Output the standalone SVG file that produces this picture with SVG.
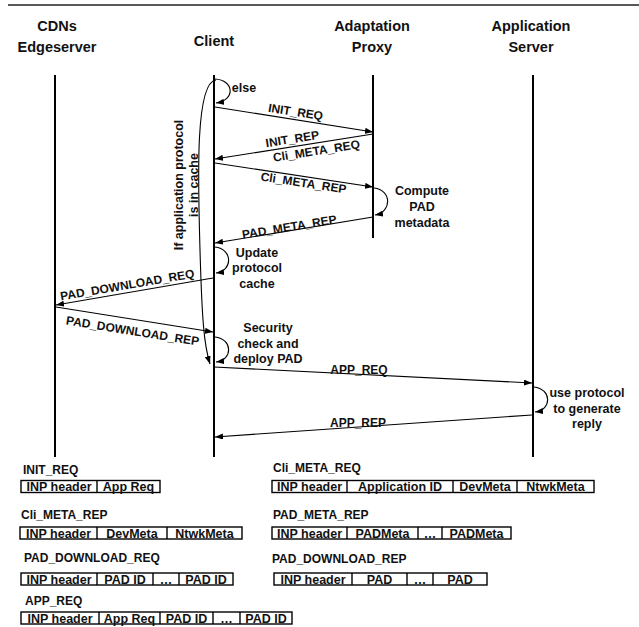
<svg xmlns="http://www.w3.org/2000/svg" width="639" height="627" viewBox="0 0 639 627">
<defs>
<marker id="ah" markerWidth="8" markerHeight="6" refX="8" refY="3" orient="auto" markerUnits="userSpaceOnUse">
<path d="M0,0 L8,3 L0,6 Z" fill="#000"/>
</marker>
<style>
text{font-family:"Liberation Sans",Arial,sans-serif;font-weight:bold;fill:#111}
.hd{font-size:14.5px;text-anchor:middle}
.lb{font-size:12px;text-anchor:middle}
.nt{font-size:12.5px;text-anchor:middle}
.ti{font-size:12px}
.bx{font-size:12.5px;text-anchor:middle}
.life{stroke:#000;stroke-width:2;fill:none}
.msg{stroke:#000;stroke-width:1.1;fill:none;marker-end:url(#ah)}
.cell{stroke:#000;stroke-width:1.4;fill:#fff}
.div{stroke:#000;stroke-width:1.4}
</style>
</defs>
<rect width="639" height="627" fill="#fff"/>
<line x1="8" y1="5" x2="639" y2="5" stroke="#222" stroke-width="1.5"/>

<g id="cdn">
<text class="hd" x="57" y="31">CDNs</text>
<text class="hd" x="57" y="52">Edgeserver</text>
<line class="life" x1="55" y1="75" x2="55" y2="457"/>
</g>
<g id="client">
<text class="hd" x="214" y="46">Client</text>
<line class="life" x1="214" y1="75" x2="214" y2="457"/>
</g>
<g id="proxy">
<text class="hd" x="372" y="31">Adaptation</text>
<text class="hd" x="372" y="52">Proxy</text>
<line class="life" x1="373" y1="75" x2="373" y2="238"/>
</g>
<g id="appserver">
<text class="hd" x="531" y="31">Application</text>
<text class="hd" x="531" y="52">Server</text>
<line class="life" x1="533" y1="75" x2="533" y2="457"/>
</g>

<g id="connectors">
<path class="msg" d="M216,80 C195,82 198,180 200,250 C202,320 204,345 210,364"/>
<text class="nt" transform="translate(183,185) rotate(-90)">If application protocol</text>
<text class="nt" transform="translate(198,185) rotate(-90)">is in cache</text>

<path class="msg" d="M215,79 C234,80 236,100 216,103"/>
<text class="nt" x="244" y="92">else</text>

<line class="msg" x1="215" y1="107" x2="373" y2="132"/>
<text class="lb" transform="translate(295,116) rotate(9)">INIT_REQ</text>

<line class="msg" x1="373" y1="134" x2="215" y2="159"/>
<text class="lb" transform="translate(293,143) rotate(-9)">INIT_REP</text>
<text class="lb" transform="translate(317,155) rotate(-9)">Cli_META_REQ</text>

<line class="msg" x1="215" y1="163" x2="373" y2="187"/>
<text class="lb" transform="translate(303,187) rotate(8.6)">Cli_META_REP</text>

<path class="msg" d="M374,188 C392,190 392,212 375,215"/>
<text class="nt" x="422" y="195">Compute</text>
<text class="nt" x="422" y="211">PAD</text>
<text class="nt" x="422" y="227">metadata</text>

<line class="msg" x1="373" y1="217" x2="215" y2="243"/>
<text class="lb" transform="translate(290,231) rotate(-9.3)">PAD_META_REP</text>

<path class="msg" d="M215,247 C233,249 233,271 216,273"/>
<text class="nt" x="257" y="257">Update</text>
<text class="nt" x="257" y="272">protocol</text>
<text class="nt" x="257" y="288">cache</text>

<line class="msg" x1="213" y1="278" x2="56" y2="305"/>
<text class="lb" transform="translate(128,289) rotate(-9.8)">PAD_DOWNLOAD_REQ</text>

<line class="msg" x1="56" y1="307" x2="213" y2="332"/>
<text class="lb" transform="translate(132,335) rotate(9.1)">PAD_DOWNLOAD_REP</text>

<path class="msg" d="M215,337 C233,339 233,360 216,362"/>
<text class="nt" x="268" y="332">Security</text>
<text class="nt" x="268" y="348">check and</text>
<text class="nt" x="268" y="363">deploy PAD</text>

<line class="msg" x1="214" y1="367" x2="532" y2="383"/>
<text class="lb" x="359" y="374">APP_REQ</text>

<path class="msg" d="M534,387 C552,389 552,410 535,412"/>
<text class="nt" x="587" y="397">use protocol</text>
<text class="nt" x="587" y="413">to generate</text>
<text class="nt" x="587" y="428">reply</text>

<line class="msg" x1="532" y1="415" x2="215" y2="437"/>
<text class="lb" x="358" y="427">APP_REP</text>
</g>

<g id="fmt-init-req">
<text class="ti" x="23" y="474">INIT_REQ</text>
<rect class="cell" x="21" y="480.5" width="139" height="12"/>
<line class="div" x1="97" y1="480.5" x2="97" y2="492.5"/>
<text class="bx" x="59" y="491">INP header</text>
<text class="bx" x="128.5" y="491">App Req</text>
</g>
<g id="fmt-cli-meta-req">
<text class="ti" x="273" y="472">Cli_META_REQ</text>
<rect class="cell" x="272" y="480.5" width="322" height="12"/>
<line class="div" x1="347" y1="480.5" x2="347" y2="492.5"/>
<line class="div" x1="453" y1="480.5" x2="453" y2="492.5"/>
<line class="div" x1="517" y1="480.5" x2="517" y2="492.5"/>
<text class="bx" x="309.5" y="491">INP header</text>
<text class="bx" x="400" y="491">Application ID</text>
<text class="bx" x="485" y="491">DevMeta</text>
<text class="bx" x="555.5" y="491">NtwkMeta</text>
</g>
<g id="fmt-cli-meta-rep">
<text class="ti" x="21" y="519">Cli_META_REP</text>
<rect class="cell" x="20" y="527" width="222" height="12"/>
<line class="div" x1="97" y1="527" x2="97" y2="539"/>
<line class="div" x1="167" y1="527" x2="167" y2="539"/>
<text class="bx" x="58.5" y="537.5">INP header</text>
<text class="bx" x="132" y="537.5">DevMeta</text>
<text class="bx" x="204.5" y="537.5">NtwkMeta</text>
</g>
<g id="fmt-pad-meta-rep">
<text class="ti" x="273" y="519">PAD_META_REP</text>
<rect class="cell" x="272" y="527" width="239" height="12"/>
<line class="div" x1="347" y1="527" x2="347" y2="539"/>
<line class="div" x1="418" y1="527" x2="418" y2="539"/>
<line class="div" x1="442" y1="527" x2="442" y2="539"/>
<text class="bx" x="309.5" y="537.5">INP header</text>
<text class="bx" x="382.5" y="537.5">PADMeta</text>
<text class="bx" x="430" y="537.5">…</text>
<text class="bx" x="476.5" y="537.5">PADMeta</text>
</g>
<g id="fmt-pad-download-req">
<text class="ti" x="24" y="562">PAD_DOWNLOAD_REQ</text>
<rect class="cell" x="21" y="573" width="212" height="12"/>
<line class="div" x1="97" y1="573" x2="97" y2="585"/>
<line class="div" x1="153" y1="573" x2="153" y2="585"/>
<line class="div" x1="179" y1="573" x2="179" y2="585"/>
<text class="bx" x="59" y="583.5">INP header</text>
<text class="bx" x="125" y="583.5">PAD ID</text>
<text class="bx" x="166" y="583.5">…</text>
<text class="bx" x="206" y="583.5">PAD ID</text>
</g>
<g id="fmt-pad-download-rep">
<text class="ti" x="272" y="563">PAD_DOWNLOAD_REP</text>
<rect class="cell" x="274" y="573" width="213" height="12"/>
<line class="div" x1="352" y1="573" x2="352" y2="585"/>
<line class="div" x1="407" y1="573" x2="407" y2="585"/>
<line class="div" x1="433" y1="573" x2="433" y2="585"/>
<text class="bx" x="313" y="583.5">INP header</text>
<text class="bx" x="379.5" y="583.5">PAD</text>
<text class="bx" x="420" y="583.5">…</text>
<text class="bx" x="460" y="583.5">PAD</text>
</g>
<g id="fmt-app-req">
<text class="ti" x="25" y="605">APP_REQ</text>
<rect class="cell" x="21" y="612" width="271" height="12"/>
<line class="div" x1="99" y1="612" x2="99" y2="624"/>
<line class="div" x1="160" y1="612" x2="160" y2="624"/>
<line class="div" x1="213" y1="612" x2="213" y2="624"/>
<line class="div" x1="240" y1="612" x2="240" y2="624"/>
<text class="bx" x="60" y="622.5">INP header</text>
<text class="bx" x="129.5" y="622.5">App Req</text>
<text class="bx" x="186.5" y="622.5">PAD ID</text>
<text class="bx" x="226.5" y="622.5">…</text>
<text class="bx" x="266" y="622.5">PAD ID</text>
</g>
</svg>
